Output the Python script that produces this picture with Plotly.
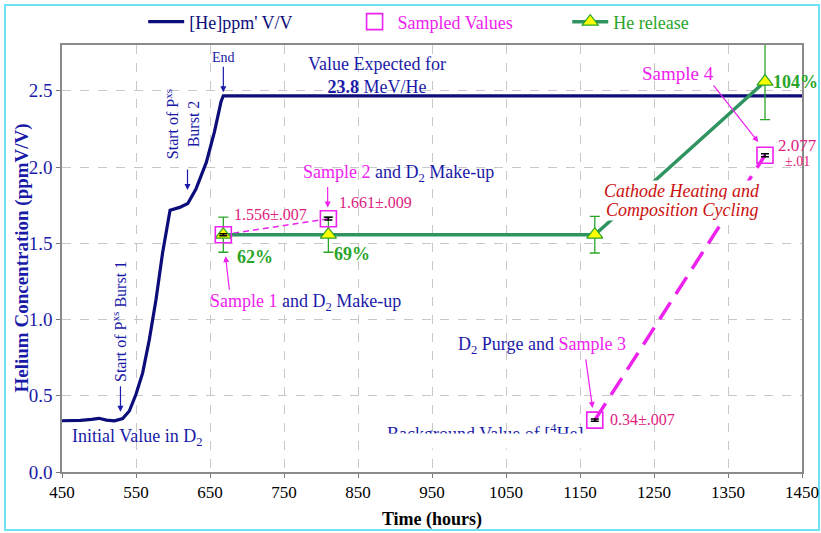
import plotly.graph_objects as go

# ---------------- data ----------------
he_hours = [450, 475, 490, 500, 510, 521, 532, 541, 550, 559, 568, 577, 586, 591, 596,
            609, 620, 631, 645, 656, 665, 668, 800, 1000, 1200, 1450]
he_ppm = [0.336, 0.338, 0.345, 0.352, 0.340, 0.336, 0.350, 0.400, 0.510, 0.65, 0.868,
          1.13, 1.44, 1.57, 1.717, 1.735, 1.761, 1.855, 2.03, 2.23, 2.43, 2.467, 2.467,
          2.467, 2.467, 2.467]

sample_hours = [668, 810, 1170, 1400]
sample_vals = [1.556, 1.661, 0.34, 2.077]
sample_err = [0.007, 0.009, 0.007, 0.01]

release_hours = [668, 810, 1170, 1400]
release_vals = [1.556, 1.556, 1.556, 2.56]
release_err = [0.115, 0.115, 0.12, 0.25]

x_ticks = [450, 550, 650, 750, 850, 950, 1050, 1150, 1250, 1350, 1450]
y_ticks = [0.0, 0.5, 1.0, 1.5, 2.0, 2.5]

# ---------------- style ----------------
FONT = "Liberation Serif"
NAVY = "#0c0c7a"
BLUE = "#1a1aa8"
MAG = "#ee22ee"
PINK = "#e0207e"
GREEN_LINE = "#2f9460"
GREEN = "#2aa52a"
RED = "#cc1111"
NB = "&nbsp;"

fig = go.Figure()

fig.add_trace(go.Scatter(
    x=he_hours, y=he_ppm, mode="lines",
    line=dict(color=NAVY, width=3.2),
    name="<span style='color:#0c0c7a'>[He]ppm' V/V</span>" + NB * 12,
))

# magenta dashed connections (no legend)
fig.add_trace(go.Scatter(
    x=sample_hours[0:2], y=sample_vals[0:2], mode="lines",
    line=dict(color=MAG, width=1.5, dash="6px,4px"), showlegend=False, hoverinfo="skip"))
fig.add_trace(go.Scatter(
    x=sample_hours[2:4], y=sample_vals[2:4], mode="lines",
    line=dict(color=MAG, width=3.5, dash="20px,10px"), showlegend=False, hoverinfo="skip"))

fig.add_trace(go.Scatter(
    x=release_hours, y=release_vals, mode="lines+markers",
    line=dict(color=GREEN_LINE, width=3.5),
    marker=dict(symbol="triangle-up", size=14, color="#ffff00",
                line=dict(color=GREEN, width=1.2)),
    error_y=dict(type="data", array=release_err, color=GREEN, thickness=1.3, width=5),
    name="<span style='color:#2aa52a'>He release</span>",
    legendrank=3,
))

fig.add_trace(go.Scatter(
    x=sample_hours, y=sample_vals, mode="markers",
    marker=dict(symbol="square-open", size=16, color=MAG, line=dict(width=1.6)),
    error_y=dict(type="data", array=sample_err, color="black", thickness=1.5, width=4),
    name="<span style='color:#ee22ee'>Sampled Values</span>" + NB * 11,
    legendrank=2,
))
fig.data[0].legendrank = 1

ann = []


def txt(x, y, text, size=18, color=BLUE, xanchor="left", **kw):
    d = dict(x=x, y=y, xref="x", yref="y", text=text, showarrow=False,
             xanchor=xanchor, yanchor="middle",
             font=dict(family=FONT, size=size, color=color))
    d.update(kw)
    ann.append(d)


def arrow(x, y, ax, ay, color=BLUE, width=1.2):
    ann.append(dict(x=x, y=y, xref="x", yref="y", text="", showarrow=True,
                    ax=ax, ay=ay, arrowhead=2, arrowsize=1.0, arrowwidth=width,
                    arrowcolor=color, standoff=0, startstandoff=0))


# End
txt(668, 2.72, "End", size=14, xanchor="center")
arrow(668, 2.49, 0, -27)
# expected value
txt(876, 2.60, "Value Expected for<br><b>23.8</b> MeV/He", size=18, xanchor="center")
# burst 2
txt(612, 2.28, "Start of P<sup>xs</sup><br>Burst 2", size=16, xanchor="center", textangle=-90)
arrow(619.6, 1.85, 0, -22)
# burst 1
txt(527, 0.99, "Start of P<sup>xs</sup> Burst 1", size=16, xanchor="center", textangle=-90)
arrow(529, 0.395, 0, -27)
# initial
txt(461, 0.224, "Initial Value in D<sub>2</sub>", size=18)
# sample 1
txt(680, 1.69, "1.556±.007", size=16, color=PINK)
txt(684, 1.41, "<b>62%</b>", size=18, color=GREEN)
txt(647, 1.11, "<span style='color:#ee22ee'>Sample 1</span> and D<sub>2</sub> Make-up", size=18)
arrow(671, 1.415, 4, 35, color=MAG)
# sample 2
txt(822, 1.77, "1.661±.009", size=16, color=PINK)
txt(815, 1.43, "<b>69%</b>", size=18, color=GREEN)
txt(773, 1.96, "<span style='color:#ee22ee'>Sample 2</span> and D<sub>2</sub> Make-up", size=18)
arrow(809, 1.735, 0, -22, color=MAG)
# sample 3
txt(982, 0.83, "D<sub>2</sub> Purge and <span style='color:#ee22ee'>Sample 3</span>", size=18)
arrow(1167, 0.42, -7, -50, color=MAG)
txt(887, 0.262, "Background Value of [<sup>4</sup>He]", size=18)
txt(1014, 0.205, NB, size=10, xanchor="center", bgcolor="white", width=208, height=12)
txt(1188, 0.342, "0.34±.007", size=16, color=PINK)
# sample 4
txt(1282, 2.615, "Sample 4", size=19, color=MAG, xanchor="center")
arrow(1391, 2.164, -46, -58, color=MAG)
txt(1444, 2.14, "2.077", size=17, color=PINK, xanchor="center")
txt(1444, 2.035, "±.01", size=14, color=PINK, xanchor="center")
txt(1408, 2.56, "<b>104%</b>", size=18, color=GREEN)
# cathode heating
txt(1288, 1.84, "<i>Cathode Heating and</i>", size=18, color=RED,
    xanchor="center", bgcolor="white", borderpad=0)
txt(1288, 1.715, "<i>Composition Cycling</i>", size=18, color=RED,
    xanchor="center", bgcolor="white", borderpad=0)

# y-axis title as paper annotation
ann.append(dict(x=(21 - 62) / 740, y=0.5, xref="paper", yref="paper",
                text="<b>Helium Concentration (ppmV/V)</b>", showarrow=False,
                textangle=-90, xanchor="center", yanchor="middle",
                font=dict(family=FONT, size=19, color=BLUE)))

fig.update_layout(
    width=821, height=533, autosize=False,
    margin=dict(l=62, r=19, t=45, b=61, autoexpand=False),
    paper_bgcolor="white", plot_bgcolor="white",
    font=dict(family=FONT, size=18, color="black"),
    annotations=ann,
    showlegend=True,
    legend=dict(orientation="h", x=0.482, xanchor="center", y=1.054, yanchor="middle",
                font=dict(family=FONT, size=18), bgcolor="rgba(0,0,0,0)",
                itemwidth=36, tracegroupgap=0),
    shapes=[dict(type="rect", xref="paper", yref="paper",
                 x0=(5 - 62) / 740, x1=(819 - 62) / 740,
                 y0=(472 - 530) / 427, y1=(472 - 5) / 427,
                 line=dict(color="#6fe0f2", width=2), layer="below")],
)

fig.update_xaxes(
    range=[450, 1450], tickvals=x_ticks, ticktext=[str(v) for v in x_ticks],
    showgrid=True, gridcolor="#c8c8c8", griddash="dash", gridwidth=1,
    showline=True, linecolor="#8a8a8a", linewidth=1.5, mirror=True,
    ticks="outside", ticklen=4, tickcolor="#777",
    tickfont=dict(family=FONT, size=17, color="black"),
    title=dict(text="<b>Time (hours)</b>", font=dict(family=FONT, size=18, color="black"),
               standoff=11),
    zeroline=False, automargin=False,
)
fig.update_yaxes(
    range=[0, 2.8], tickvals=y_ticks, ticktext=["%.1f" % v for v in y_ticks],
    showgrid=True, gridcolor="#c8c8c8", griddash="dash", gridwidth=1,
    showline=True, linecolor="#8a8a8a", linewidth=1.5, mirror=True,
    ticks="outside", ticklen=4, tickcolor="#777",
    tickfont=dict(family=FONT, size=19, color=BLUE),
    zeroline=False, automargin=False,
)

fig.write_html("out.html", config={"displayModeBar": False},
               post_script="document.body.style.margin='0px';")
